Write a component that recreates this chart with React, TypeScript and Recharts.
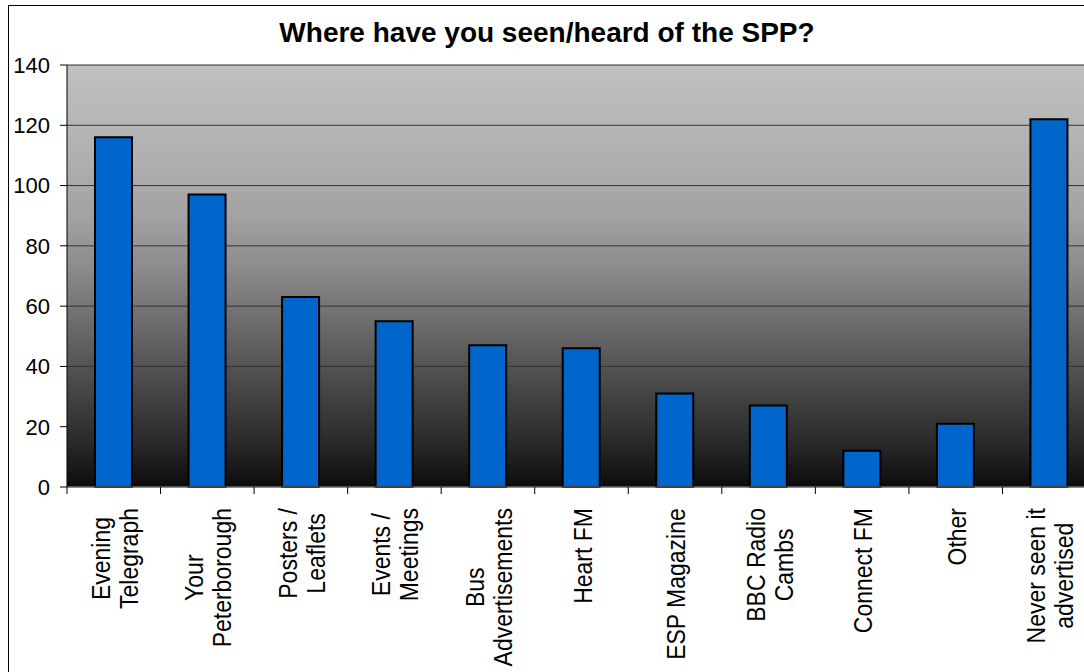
import React from "react";
import { BarChart, Bar, CartesianGrid, XAxis, YAxis } from "recharts";

const categories = [
  "Evening\nTelegraph",
  "Your\nPeterborough",
  "Posters /\nLeaflets",
  "Events /\nMeetings",
  "Bus\nAdvertisements",
  "Heart FM",
  "ESP Magazine",
  "BBC Radio\nCambs",
  "Connect FM",
  "Other",
  "Never seen it\nadvertised",
];
const counts = [116, 97, 63, 55, 47, 46, 31, 27, 12, 21, 122];
const yTicks = [0, 20, 40, 60, 80, 100, 120, 140];
const title = "Where have you seen/heard of the SPP?";

const FONT = "'Liberation Sans', Arial, sans-serif";
const PLOT_LEFT = 67;
const PLOT_RIGHT = 1096;
const BAND = (PLOT_RIGHT - PLOT_LEFT) / categories.length;

let ctx: CanvasRenderingContext2D | null = null;
function textWidth(s: string) {
  if (!ctx) {
    ctx = document.createElement("canvas").getContext("2d");
    if (ctx) ctx.font = "23px 'Liberation Sans'";
  }
  return ctx ? ctx.measureText(s).width : s.length * 12;
}

// category label: rotated, multi-line, tick mark at the left edge of the band
function CategoryTick(props: any) {
  const { x, y, payload } = props;
  const lines = String(payload.value).split("\n");
  const maxW = Math.max(...lines.map(textWidth));
  const cy = y + 21 + maxW / 2;
  const n = lines.length;
  return (
    <g>
      <line x1={x - BAND / 2} x2={x - BAND / 2} y1={y} y2={y + 7} stroke="#000" />
      {lines.map((ln, i) => {
        const lx = x + 10 + (i - (n - 1) / 2) * 28;
        return (
          <text
            key={i}
            x={0}
            y={0}
            transform={`translate(${lx} ${cy}) rotate(-90) scale(1 1.15)`}
            textAnchor="middle"
            fontSize={23}
            fontFamily={FONT}
            fill="#000"
          >
            {ln}
          </text>
        );
      })}
    </g>
  );
}

export default function App() {
  const data = categories.map((c, i) => ({ name: c, count: counts[i] }));
  return (
    <div
      style={{
        position: "fixed",
        left: 0,
        top: 0,
        width: 1084,
        height: 672,
        overflow: "hidden",
        background: "#fff",
      }}
    >
      <svg width={1084} height={672} style={{ position: "absolute", left: 0, top: 0 }}>
        <rect x={8.5} y={5.5} width={1200} height={800} fill="#fff" stroke="#000" />
        <text
          x={547}
          y={42}
          textAnchor="middle"
          fontSize={28}
          fontWeight="bold"
          fontFamily={FONT}
          fill="#000"
        >
          {title}
        </text>
      </svg>
      <div style={{ position: "absolute", left: 0, top: 0 }}>
        <BarChart
          width={1100}
          height={672}
          data={data}
          margin={{ top: 65, right: 4, bottom: 0, left: 0 }}
          barSize={37}
        >
          <defs>
            <linearGradient id="bgGrad" x1="0" y1="0" x2="0" y2="1">
              <stop offset="0%" stopColor="#c0c0c0" />
              <stop offset="22%" stopColor="#b0b0b0" />
              <stop offset="36%" stopColor="#a2a2a2" />
              <stop offset="48%" stopColor="#8c8c8c" />
              <stop offset="62%" stopColor="#6a6a6a" />
              <stop offset="76%" stopColor="#484848" />
              <stop offset="90%" stopColor="#282828" />
              <stop offset="100%" stopColor="#0c0c0c" />
            </linearGradient>
          </defs>
          <CartesianGrid
            vertical={false}
            stroke="#333"
            fill="url(#bgGrad)"
            fillOpacity={1}
          />
          <XAxis
            dataKey="name"
            interval={0}
            height={185}
            axisLine={{ stroke: "#808080" }}
            tickLine={false}
            tickSize={0}
            tickMargin={0}
            tick={<CategoryTick />}
          />
          <YAxis
            width={PLOT_LEFT}
            domain={[0, 140]}
            ticks={yTicks}
            interval={0}
            axisLine={{ stroke: "#000" }}
            tickLine={{ stroke: "#000" }}
            tickSize={7}
            tickMargin={10}
            tick={{ fill: "#000", fontSize: 22, fontFamily: FONT }}
          />
          <Bar
            dataKey="count"
            fill="#0066cc"
            stroke="#000"
            strokeWidth={2}
            isAnimationActive={false}
          />
        </BarChart>
      </div>
    </div>
  );
}
